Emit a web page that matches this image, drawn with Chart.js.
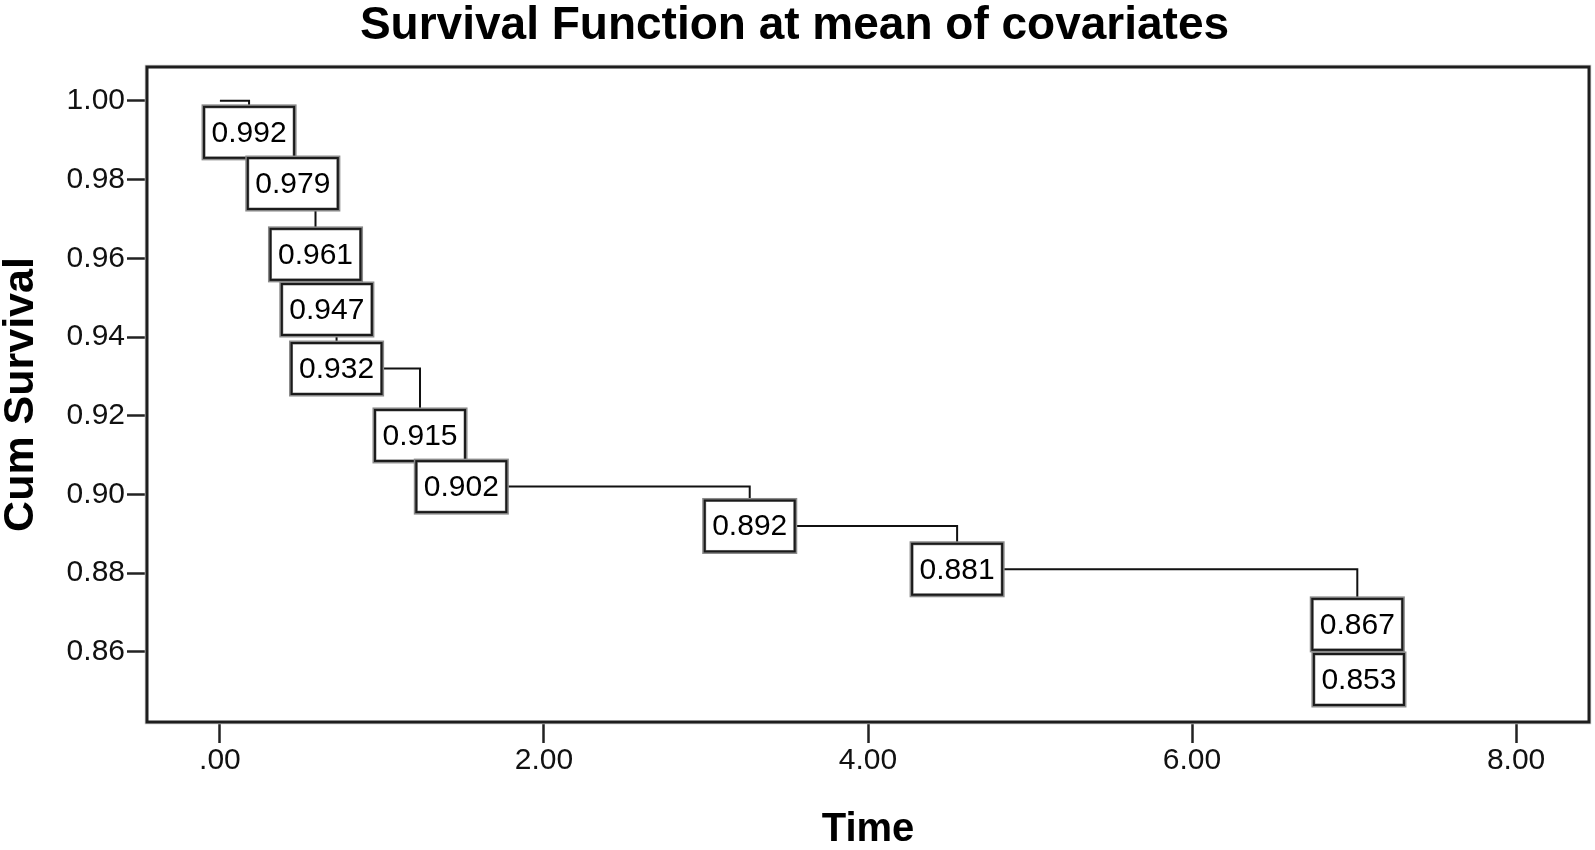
<!DOCTYPE html>
<html>
<head>
<meta charset="utf-8">
<title>Survival Function at mean of covariates</title>
<script src="https://cdn.jsdelivr.net/npm/chart.js@4.4.1/dist/chart.umd.min.js"></script>
<style>
	html, body { margin: 0; padding: 0; background: #fff; }
	#grafica { display: block; }
</style>
</head>
<body>
<canvas id="grafica" width="1595" height="850"></canvas>
<script>
	// valores
	var tiempos = [0, 0.18, 0.45, 0.59, 0.66, 0.72, 1.235, 1.49, 3.27, 4.55, 7.02, 7.03]
	var supervivencia = [1.000, 0.992, 0.979, 0.961, 0.947, 0.932, 0.915, 0.902, 0.892, 0.881, 0.867, 0.853]

	var x_ticks = [0, 2, 4, 6, 8]
	var x_tick_labels = ['.00', '2.00', '4.00', '6.00', '8.00']
	var y_ticks = [0.86, 0.88, 0.90, 0.92, 0.94, 0.96, 0.98, 1.00]
	var y_tick_labels = ['0.86', '0.88', '0.90', '0.92', '0.94', '0.96', '0.98', '1.00']

	var x_min = -0.45, x_max = 8.45
	var y_min = 0.8422, y_max = 1.0086

	var fuente = '"Liberation Sans", Arial, sans-serif'

	var puntos = tiempos.map(function(t, i){
		return {x: t, y: supervivencia[i]}
	})

	/* cajas con el valor en cada escalon */
	var etiquetas = {
		id: 'etiquetas',
		afterDatasetsDraw: function(chart){
			var ctx = chart.ctx
			var meta = chart.getDatasetMeta(0)
			ctx.save()
			ctx.font = '30px ' + fuente
			for (var i = 1; i < meta.data.length; i++) {
				var p = meta.data[i]
				var texto = supervivencia[i].toFixed(3)
				var w = ctx.measureText(texto).width + 16
				var h = 52
				var bx = p.x - w / 2
				var by = p.y - h / 2
				ctx.fillStyle = '#fff'
				ctx.fillRect(bx, by, w, h)
				ctx.strokeStyle = '#8a8a8a'
				ctx.lineWidth = 4
				ctx.strokeRect(bx, by, w, h)
				ctx.strokeStyle = '#1a1a1a'
				ctx.lineWidth = 2
				ctx.strokeRect(bx + 0.5, by + 0.5, w - 1, h - 1)
				ctx.fillStyle = '#000'
				ctx.textAlign = 'center'
				ctx.textBaseline = 'middle'
				ctx.fillText(texto, p.x, p.y + 1)
			}
			ctx.restore()
		}
	}

	/* marco del area del grafico */
	var marco = {
		id: 'marco',
		afterDatasetsDraw: function(chart){
			var a = chart.chartArea
			var ctx = chart.ctx
			ctx.save()
			ctx.strokeStyle = '#c8c8c8'
			ctx.lineWidth = 1.5
			ctx.strokeRect(a.left - 1.5, a.top - 1.5, a.right - a.left + 3, a.bottom - a.top + 3)
			ctx.strokeStyle = '#1e1e1e'
			ctx.lineWidth = 3
			ctx.strokeRect(a.left, a.top, a.right - a.left, a.bottom - a.top)
			ctx.restore()
		}
	}

	var ctx = document.getElementById('grafica').getContext('2d')
	window.grafica = new Chart(ctx, {
		type: 'line',
		data: {
			datasets: [{
				data: puntos,
				stepped: true,
				borderColor: '#111',
				borderWidth: 2,
				pointRadius: 0,
				fill: false
			}]
		},
		options: {
			responsive: false,
			animation: false,
			layout: {
				padding: {left: 0, right: 6, top: 0, bottom: 0}
			},
			plugins: {
				legend: {display: false},
				tooltip: {enabled: false},
				title: {
					display: true,
					text: 'Survival Function at mean of covariates',
					color: '#000',
					font: {family: fuente, size: 46, weight: 'bold', lineHeight: 0.92},
					padding: {top: 5, bottom: 19.7}
				}
			},
			scales: {
				x: {
					type: 'linear',
					min: x_min,
					max: x_max,
					afterBuildTicks: function(scale){
						scale.ticks = x_ticks.map(function(v){ return {value: v} })
					},
					afterFit: function(scale){
						scale.height = 128
					},
					ticks: {
						callback: function(v){ return x_tick_labels[x_ticks.indexOf(v)] },
						color: '#111',
						font: {family: fuente, size: 30},
						padding: 0,
						maxRotation: 0,
						autoSkip: false
					},
					grid: {
						drawOnChartArea: false,
						drawTicks: true,
						tickLength: 21,
						tickWidth: 2.5,
						tickColor: '#222'
					},
					border: {display: false},
					title: {
						display: true,
						text: 'Time',
						color: '#000',
						font: {family: fuente, size: 40, weight: 'bold', lineHeight: 1},
						padding: 0
					}
				},
				y: {
					type: 'linear',
					min: y_min,
					max: y_max,
					afterBuildTicks: function(scale){
						scale.ticks = y_ticks.map(function(v){ return {value: v} })
					},
					afterFit: function(scale){
						scale.width = 147
					},
					ticks: {
						callback: function(v){ return y_tick_labels[y_ticks.indexOf(v)] },
						color: '#111',
						font: {family: fuente, size: 30},
						padding: 2,
						autoSkip: false
					},
					grid: {
						drawOnChartArea: false,
						drawTicks: true,
						tickLength: 20,
						tickWidth: 2.5,
						tickColor: '#222'
					},
					border: {display: false},
					title: {
						display: true,
						text: 'Cum Survival',
						color: '#000',
						font: {family: fuente, size: 43, weight: 'bold', lineHeight: 1},
						padding: 0
					}
				}
			}
		},
		plugins: [etiquetas, marco]
	})
</script>
</body>
</html>
